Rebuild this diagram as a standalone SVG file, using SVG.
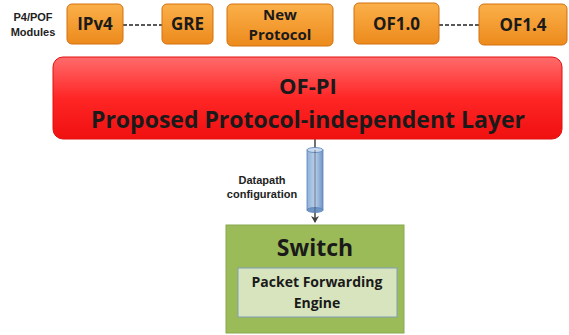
<svg xmlns="http://www.w3.org/2000/svg" width="569" height="335" viewBox="0 0 569 335">
<defs>
<linearGradient id="og" x1="0" y1="0" x2="0" y2="1"><stop offset="0" stop-color="#fbb04a"/><stop offset="1" stop-color="#ec8a1c"/></linearGradient>
<linearGradient id="rg" x1="0" y1="0" x2="0" y2="1"><stop offset="0" stop-color="#ff6b6b"/><stop offset="0.5" stop-color="#ff2626"/><stop offset="1" stop-color="#f01010"/></linearGradient>
<linearGradient id="cg" x1="0" y1="0" x2="1" y2="0"><stop offset="0" stop-color="#8fb1da"/><stop offset="0.5" stop-color="#b9cfea"/><stop offset="1" stop-color="#6f95c6"/></linearGradient>
<marker id="ah" markerWidth="8" markerHeight="8" refX="6" refY="4" orient="auto" markerUnits="userSpaceOnUse"><path d="M0,0 L7,4 L0,8 L2,4 Z" fill="#404040"/></marker>
</defs>
<style>
.ob{fill:url(#og);stroke:#d4700e;stroke-width:1}
.ot{font-family:"Open Sans","Liberation Sans",sans-serif;font-weight:bold;fill:#1a1a1a;text-anchor:middle}
.lb{font-family:"Liberation Sans",Arial,sans-serif;font-weight:bold;font-size:11px;fill:#222;text-anchor:middle}
.dash{stroke:#222;stroke-width:1.5;stroke-dasharray:4,2;fill:none}
</style>
<g id="label-modules"><text class="lb" x="33" y="21">P4/POF</text><text class="lb" x="33" y="36">Modules</text></g>
<g id="connectors">
<line class="dash" x1="123" y1="25" x2="162" y2="25"/>
<line class="dash" x1="439" y1="25" x2="479" y2="25"/>
<line x1="315" y1="139" x2="315" y2="222" stroke="#404040" stroke-width="1.5" marker-end="url(#ah)"/>
<g id="cylinder">
<rect x="307" y="150" width="16" height="60" fill="url(#cg)" stroke="#5b83b8" stroke-width="0.8"/>
<ellipse cx="315" cy="210" rx="8" ry="2.5" fill="#6f95c6" stroke="#5b83b8" stroke-width="0.8"/>
<ellipse cx="315" cy="150" rx="8" ry="2.5" fill="#c8daf0" stroke="#5b83b8" stroke-width="0.8"/>
<line x1="315" y1="150" x2="315" y2="212" stroke="#404040" stroke-width="1" opacity="0.6"/>
</g>
<text class="lb" x="262" y="184">Datapath</text>
<text class="lb" x="262" y="198">configuration</text>
</g>
<g id="ipv4"><rect class="ob" x="67" y="4" width="56" height="40" rx="5"/><text class="ot" x="95" y="30" style="font-size:17px">IPv4</text></g>
<g id="gre"><rect class="ob" x="162" y="4" width="51" height="40" rx="5"/><text class="ot" x="187.5" y="30" style="font-size:17px">GRE</text></g>
<g id="newproto"><rect class="ob" x="227" y="4" width="106" height="42" rx="5"/><text class="ot" x="280" y="20" style="font-size:15px">New</text><text class="ot" x="280" y="40" style="font-size:15px">Protocol</text></g>
<g id="of10"><rect class="ob" x="354" y="3" width="85" height="41" rx="5"/><text class="ot" x="396.5" y="30" style="font-size:17px">OF1.0</text></g>
<g id="of14"><rect class="ob" x="479" y="4" width="88" height="41" rx="5"/><text class="ot" x="523" y="31" style="font-size:17px">OF1.4</text></g>
<g id="ofpi">
<rect x="53" y="57" width="509" height="82" rx="10" fill="url(#rg)" stroke="#e01010" stroke-width="1"/>
<text class="ot" x="308" y="94" style="font-size:22px">OF-PI</text>
<text class="ot" x="308" y="128" style="font-size:23px">Proposed Protocol-independent Layer</text>
</g>
<g id="switch">
<rect x="226" y="225" width="178" height="108" fill="#9bbb59" stroke="#8aa84e" stroke-width="1"/>
<text class="ot" x="315" y="256" style="font-size:23px">Switch</text>
<rect x="238" y="268" width="159" height="49" fill="#d7e4bd" stroke="#7f9fb5" stroke-width="1"/>
<text class="ot" x="317" y="287" style="font-size:14px">Packet Forwarding</text>
<text class="ot" x="317" y="308" style="font-size:14px">Engine</text>
</g>
</svg>
